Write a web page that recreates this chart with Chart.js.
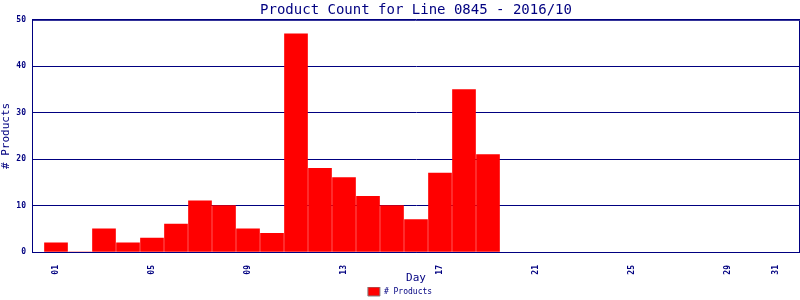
<!DOCTYPE html>
<html>
<head>
<meta charset="utf-8">
<script src="https://cdn.jsdelivr.net/npm/chart.js@4/dist/chart.umd.min.js"></script>
<style>
  html, body { margin: 0; padding: 0; background: #fff; }
  #wrap { width: 800px; height: 300px; }
</style>
</head>
<body>
<div id="wrap"><canvas id="chart1"></canvas></div>
<script>
// days 00..32 so the bars sit on the integer day positions
const days = ["00","01","02","03","04","05","06","07","08","09","10","11","12","13","14","15","16",
  "17","18","19","20","21","22","23","24","25","26","27","28","29","30","31","32"];
const products = [null, 2, 0, 5, 2, 3, 6, 11, 10, 5, 4, 47, 18, 16, 12, 10, 7, 17, 35, 21,
  null, null, null, null, null, null, null, null, null, null, null, null, null];
const shownTicks = ["01","05","09","13","17","21","25","29","31"];
const yTicks = [0, 10, 20, 30, 40, 50];

const navy = "#000080";
const mono = "'DejaVu Sans Mono', 'Liberation Mono', monospace";

// right + top frame of the plot box, and a compact legend
const frame = {
  id: "frame",
  afterInit(chart) {
    const lg = chart.legend;
    if (lg) {
      const fit = lg.fit;
      lg.fit = function () { fit.call(this); this.height = 13; };
    }
  },
  afterDraw(chart) {
    const { ctx, chartArea: a } = chart;
    ctx.save();
    ctx.strokeStyle = navy;
    ctx.lineWidth = 1;
    ctx.beginPath();
    ctx.moveTo(a.left, a.top + 0.5);
    ctx.lineTo(a.right - 0.5, a.top + 0.5);
    ctx.lineTo(a.right - 0.5, a.bottom);
    ctx.stroke();
    ctx.restore();
  }
};

new Chart(document.querySelector("#chart1"), {
  type: "bar",
  data: {
    labels: days,
    datasets: [
      {
        label: "# Products",
        data: products,
        backgroundColor: "#ff0000",
        borderWidth: 0,
        barThickness: 23,
      },
    ],
  },
  options: {
    responsive: true,
    maintainAspectRatio: false,
    animation: false,
    layout: { padding: { left: 0, right: 0, top: 0, bottom: 0 } },
    plugins: {
      title: {
        display: true,
        text: "Product Count for Line 0845 - 2016/10",
        fullSize: false,
        color: navy,
        font: { family: mono, size: 14, weight: "normal" },
        padding: { top: 2, bottom: 1 },
      },
      legend: {
        position: "bottom",
        labels: {
          color: navy,
          boxWidth: 12,
          boxHeight: 9,
          padding: 0,
          font: { family: mono, size: 8 },
          generateLabels(chart) {
            const items = Chart.defaults.plugins.legend.labels.generateLabels(chart);
            items.forEach(i => { i.strokeStyle = "#808080"; i.lineWidth = 1; });
            return items;
          },
        },
      },
      tooltip: { enabled: false },
    },
    scales: {
      x: {
        offset: false,
        grid: { display: false },
        border: { display: true, color: navy },
        title: {
          display: true,
          text: "Day",
          color: navy,
          font: { family: mono, size: 11 },
          padding: { top: 2, bottom: 2 },
        },
        ticks: {
          color: navy,
          autoSkip: false,
          minRotation: 90,
          maxRotation: 90,
          padding: 5,
          font: { family: mono, size: 8, weight: "bold" },
          callback(v) {
            const l = days[v];
            return shownTicks.includes(l) ? l : "";
          },
        },
        afterFit(s) { s.height = 35; s.paddingLeft = 0; s.paddingRight = 0; },
      },
      y: {
        min: 0,
        max: 50,
        afterBuildTicks(s) { s.ticks = yTicks.map(v => ({ value: v })); },
        grid: { color: navy, drawTicks: false },
        border: { display: true, color: navy },
        title: {
          display: true,
          text: "# Products",
          color: navy,
          font: { family: mono, size: 11 },
          padding: 0,
        },
        ticks: {
          color: navy,
          padding: 6,
          font: { family: mono, size: 8, weight: "bold" },
        },
        afterFit(s) { s.width = 32; },
      },
    },
  },
  plugins: [frame],
});
</script>
</body>
</html>
